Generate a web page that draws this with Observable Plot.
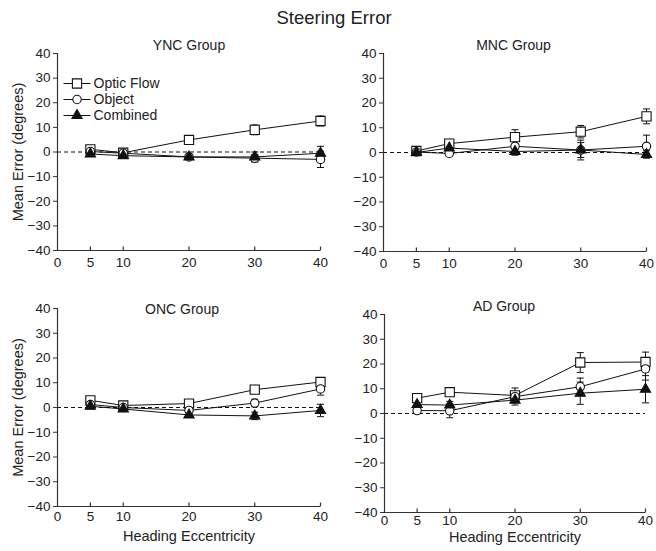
<!DOCTYPE html>
<html><head><meta charset="utf-8">
<script src="https://cdn.jsdelivr.net/npm/d3@7"></script>
<script src="https://cdn.jsdelivr.net/npm/@observablehq/plot@0.6"></script>
<style>
body{margin:0;background:#fff;font-family:"Liberation Sans",Arial,sans-serif;}
#wrap{position:relative;width:656px;height:551px;overflow:hidden;}
#title{position:absolute;left:6px;top:9px;width:656px;text-align:center;font-size:18.5px;line-height:1;color:#222;}
.panel{position:absolute;}
</style></head><body>
<div id="wrap"><div id="title">Steering Error</div></div>
<script>
// ---- data ----
const eccentricity = [5, 10, 20, 30, 40];
const xTicks = [0, 5, 10, 20, 30, 40];
const yTicks = [-40, -30, -20, -10, 0, 10, 20, 30, 40];
const seriesNames = ["Optic Flow", "Object", "Combined"];
const groupNames = ["YNC Group", "MNC Group", "ONC Group", "AD Group"];

const yncOpticFlow = [1.1, -0.3, 4.9, 9.0, 12.6];
const yncObject    = [0.2, -0.5, -2.0, -2.5, -3.0];
const yncCombined  = [-0.8, -1.5, -2.0, -2.0, -0.5];
const yncOpticFlowErr = [1.5, 1, 1.5, 2, 2];
const yncObjectErr    = [1, 1, 1, 1.5, 3.3];
const yncCombinedErr  = [1, 1, 1, 2, 2.8];

const mncOpticFlow = [0.6, 3.6, 6.2, 8.4, 14.6];
const mncObject    = [0.2, -0.4, 2.5, 1.0, 2.5];
const mncCombined  = [0.0, 1.8, 0.4, 1.0, -0.8];
const mncOpticFlowErr = [1, 1, 3, 2.5, 3];
const mncObjectErr    = [1, 1, 1, 3, 4.5];
const mncCombinedErr  = [1, 1, 1.5, 4, 1.5];

const oncOpticFlow = [2.9, 0.8, 1.6, 7.2, 10.3];
const oncObject    = [1.2, 0.0, -1.2, 1.8, 7.5];
const oncCombined  = [0.5, -0.6, -3.0, -3.4, -1.2];
const oncOpticFlowErr = [1.5, 1, 1, 1.5, 1.5];
const oncObjectErr    = [1, 1, 1, 1.5, 2.5];
const oncCombinedErr  = [1, 1, 1, 1.5, 2.5];

const adOpticFlow = [6.2, 8.6, 7.3, 20.6, 20.8];
const adObject    = [1.2, 1.1, 6.8, 10.8, 18.0];
const adCombined  = [3.6, 3.4, 5.4, 8.2, 9.8];
const adOpticFlowErr = [1.5, 1.5, 3, 4, 4];
const adObjectErr    = [1, 2.8, 2, 3.5, 4.5];
const adCombinedErr  = [1.5, 1.5, 2, 4.5, 5.5];

// ---- styles ----
const INK = "#111";
const seriesStyle = [
  {symbol: "square", fill: "white", r: 5.2},
  {symbol: "circle", fill: "white", r: 4.2},
  {symbol: "triangle", fill: INK, r: 3.8}
];
const capSym = {draw(ctx) { ctx.moveTo(-3.5, 0); ctx.lineTo(3.5, 0); }};
const tickUpSym = {draw(ctx) { ctx.moveTo(0, 0); ctx.lineTo(0, -4); }};
const legendLineSym = {draw(ctx) { ctx.moveTo(-13.5, 0); ctx.lineTo(13.5, 0); }};

function rowsFor(values, errs) {
  return values.map((vals, s) => eccentricity.map((e, i) => ({
    ecc: e, value: vals[i], err: errs[s][i], series: seriesNames[s]
  })));
}

const panels = [
  {name: groupNames[0], series: rowsFor([yncOpticFlow, yncObject, yncCombined], [yncOpticFlowErr, yncObjectErr, yncCombinedErr]),
   box: {left: 0, top: 30, width: 330, height: 260, mt: 23, mb: 40, ml: 57, mr: 10}, titleDx: 0, titleDy: -8.2,
   legend: true, yLabel: true, xLabel: false, tickPad: 7},
  {name: groupNames[1], series: rowsFor([mncOpticFlow, mncObject, mncCombined], [mncOpticFlowErr, mncObjectErr, mncCombinedErr]),
   box: {left: 330, top: 30, width: 326, height: 260, mt: 23, mb: 39, ml: 53, mr: 10}, titleDx: -1.5, titleDy: -8,
   legend: false, yLabel: false, xLabel: false, tickPad: 7},
  {name: groupNames[2], series: rowsFor([oncOpticFlow, oncObject, oncCombined], [oncOpticFlowErr, oncObjectErr, oncCombinedErr]),
   box: {left: 0, top: 290, width: 330, height: 261, mt: 18, mb: 45, ml: 57, mr: 10}, titleDx: -7, titleDy: 1.5,
   legend: false, yLabel: true, xLabel: true, xLabelDy: 30, tickPad: 5},
  {name: groupNames[3], series: rowsFor([adOpticFlow, adObject, adCombined], [adOpticFlowErr, adObjectErr, adCombinedErr]),
   box: {left: 330, top: 290, width: 326, height: 261, mt: 24, mb: 39, ml: 54, mr: 11}, titleDx: -11, titleDy: -7.5,
   legend: false, yLabel: false, xLabel: true, xLabelDy: 24.5, tickPad: 3}
];

const wrap = document.getElementById("wrap");

for (const p of panels) {
  const b = p.box;
  const marks = [];
  // axes lines
  marks.push(Plot.ruleY([0], {stroke: INK, strokeWidth: 1.1, strokeDasharray: "4,3"}));
  marks.push(Plot.ruleX([d3.min(xTicks)], {stroke: "#333", strokeWidth: 1.2}));
  marks.push(Plot.ruleY([d3.min(yTicks)], {stroke: "#333", strokeWidth: 1.2, insetLeft: -4}));
  marks.push(Plot.axisY(yTicks, {tickSize: 4, tickPadding: 3, fontSize: 13.5, stroke: "#333", fill: "#222", label: null}));
  marks.push(Plot.axisX(xTicks, {tickSize: 0, tickPadding: p.tickPad, fontSize: 13.5, fill: "#222", label: null}));
  marks.push(Plot.dot(xTicks.filter(t => t > 0), {x: d => d, frameAnchor: "bottom", symbol: tickUpSym, stroke: "#333", fill: "none", strokeWidth: 1.2}));
  // data
  p.series.forEach((rows) => {
    marks.push(Plot.line(rows, {x: "ecc", y: "value", stroke: INK, strokeWidth: 1}));
  });
  p.series.forEach((rows) => {
    marks.push(Plot.ruleX(rows, {x: "ecc", y1: d => d.value - d.err, y2: d => d.value + d.err, stroke: INK, strokeWidth: 1}));
    marks.push(Plot.dot(rows, {x: "ecc", y: d => d.value - d.err, symbol: capSym, stroke: INK, fill: "none", strokeWidth: 1}));
    marks.push(Plot.dot(rows, {x: "ecc", y: d => d.value + d.err, symbol: capSym, stroke: INK, fill: "none", strokeWidth: 1}));
  });
  p.series.forEach((rows, s) => {
    const st = seriesStyle[s];
    marks.push(Plot.dot(rows, {x: "ecc", y: "value", symbol: st.symbol, r: st.r, fill: st.fill, stroke: INK, strokeWidth: 1.1}));
  });
  // panel title
  marks.push(Plot.text([p.name], {frameAnchor: "top", dx: p.titleDx, dy: p.titleDy, lineAnchor: "middle", fontSize: 14, fill: "#222"}));
  if (p.yLabel) {
    marks.push(Plot.text(["Mean Error (degrees)"], {frameAnchor: "left", dx: -45, rotate: -90, lineAnchor: "top", textAnchor: "middle", fontSize: 14.5, fill: "#222"}));
  }
  if (p.xLabel) {
    marks.push(Plot.text(["Heading Eccentricity"], {frameAnchor: "bottom", dy: p.xLabelDy, lineAnchor: "middle", fontSize: 14.5, fill: "#222"}));
  }
  if (p.legend) {
    seriesNames.forEach((name, s) => {
      const st = seriesStyle[s];
      const dy = 30 + s * 16;
      marks.push(Plot.dot([name], {frameAnchor: "top-left", dx: 19.5, dy, symbol: legendLineSym, stroke: INK, fill: "none", strokeWidth: 1}));
      marks.push(Plot.dot([name], {frameAnchor: "top-left", dx: 19.5, dy, symbol: st.symbol, r: st.r, fill: st.fill, stroke: INK, strokeWidth: 1.1}));
      marks.push(Plot.text([name], {frameAnchor: "top-left", dx: 36, dy, text: d => d, textAnchor: "start", lineAnchor: "middle", fontSize: 14, fill: "#222"}));
    });
  }

  const chart = Plot.plot({
    width: b.width, height: b.height,
    marginTop: b.mt, marginBottom: b.mb, marginLeft: b.ml, marginRight: b.mr,
    x: {domain: d3.extent(xTicks), axis: null},
    y: {domain: d3.extent(yTicks), axis: null},
    style: {fontFamily: "'Liberation Sans', Arial, sans-serif", background: "transparent", overflow: "visible", color: "#222"},
    marks
  });
  const div = document.createElement("div");
  div.className = "panel";
  div.style.left = b.left + "px";
  div.style.top = b.top + "px";
  div.appendChild(chart);
  wrap.appendChild(div);
}
</script>
</body></html>
